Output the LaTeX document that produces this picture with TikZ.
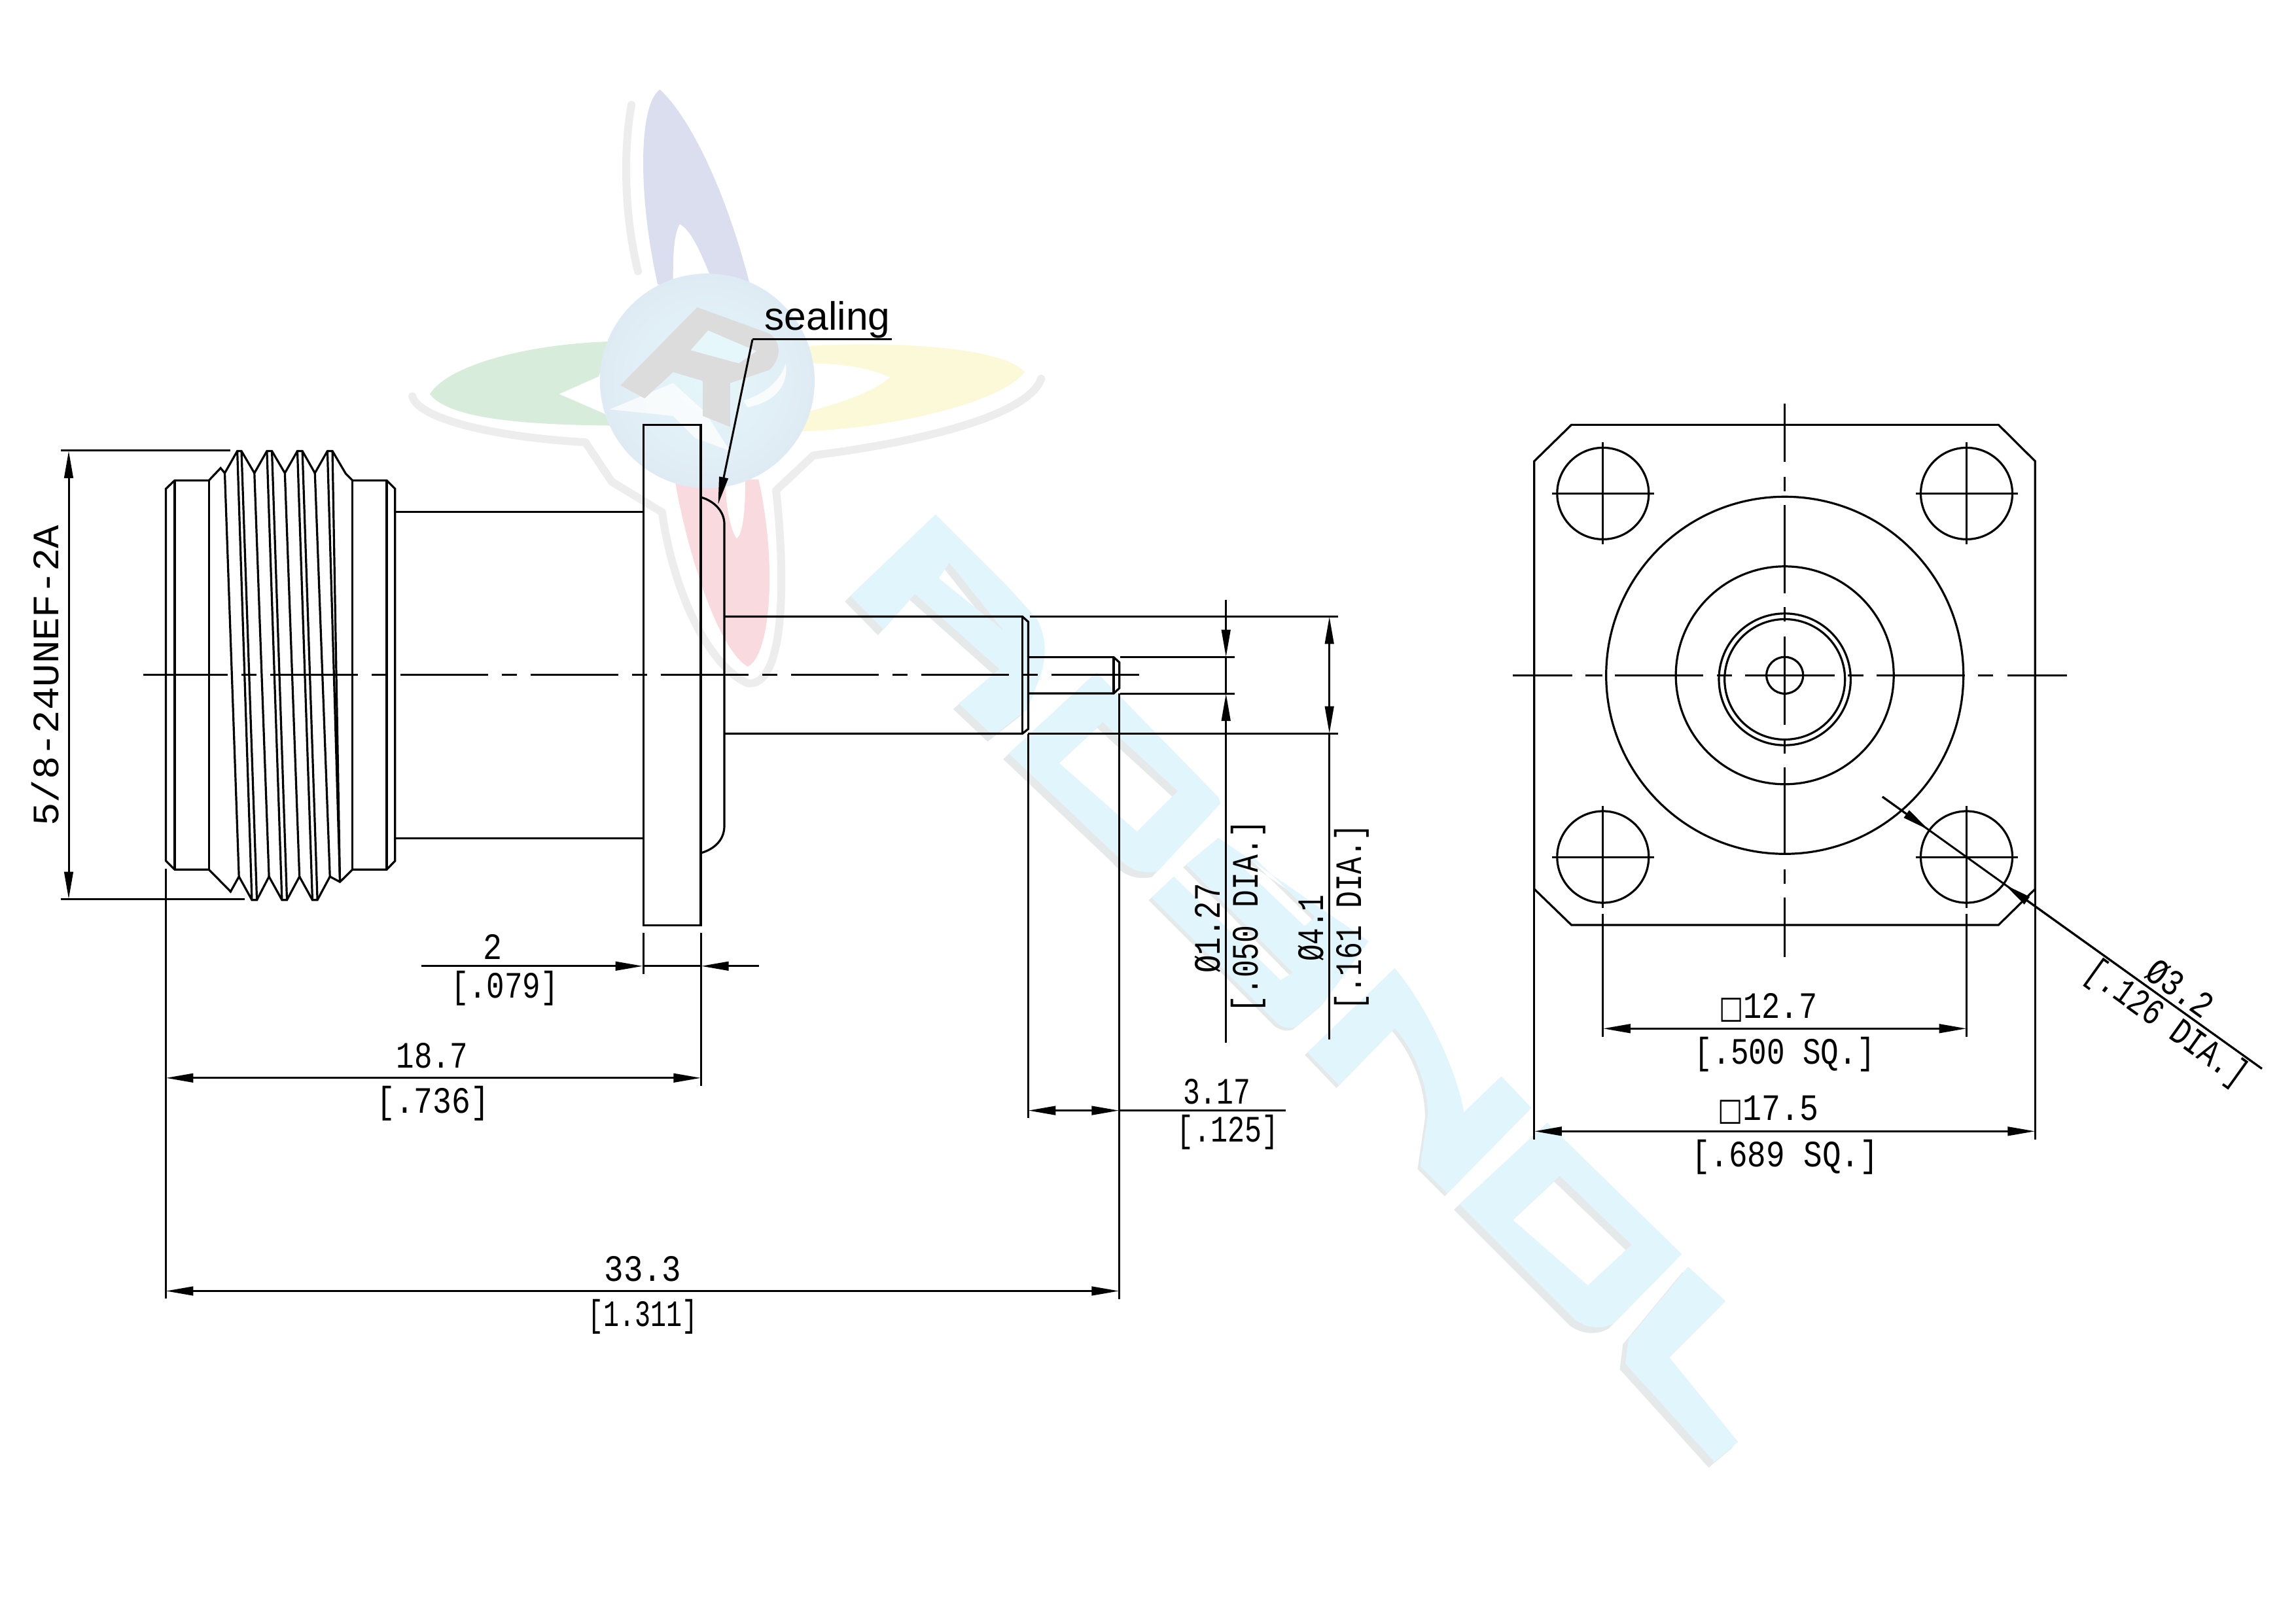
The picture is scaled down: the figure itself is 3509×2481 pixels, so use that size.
\documentclass[tikz,border=0pt]{standalone}
\usepackage{fontspec}
\usepackage{graphicx}
\usetikzlibrary{arrows.meta}
\newfontfamily\sealfont{Liberation Sans}
\newfontfamily\symfont{DejaVu Sans}
\newfontfamily\cadfont{Liberation Mono}
\newdimen\wu \wu=0.1mm
\newcommand\cw[2]{\resizebox{#1\wu}{\height}{\cadfont\fontsize{16.2}{18}\selectfont #2}}
\newcommand\sqg{{\symfont\fontsize{13.6}{14}\selectfont\char"25A1}}
\definecolor{wmcy}{HTML}{E1F5FC}
\definecolor{wmgy}{HTML}{E5E9E9}
\definecolor{lgBlue}{HTML}{DADEEE}
\definecolor{lgGreen}{HTML}{D8ECDB}
\definecolor{lgYellow}{HTML}{FBF9D8}
\definecolor{lgRed}{HTML}{F9DADF}
\definecolor{lgHalo}{HTML}{EDEDED}
\definecolor{lgGray}{HTML}{DCDCDC}
\definecolor{lgBallA}{HTML}{E5F7FA}
\definecolor{lgBallB}{HTML}{DFEBF4}
\newcommand\wmshape[1]{\fill[wmgy,even odd rule,shift={(-9,9)}] #1; \fill[wmcy,even odd rule] #1;}
\tikzset{
  x=0.1mm,y=-0.1mm,
  >={Triangle[length=4.2mm,width=1.35mm]},
  part/.style={line width=0.32mm,line join=miter},
  dimn/.style={line width=0.3mm},
  cad/.style={inner sep=0pt,outer sep=0pt,anchor=base},
  halo/.style={lgHalo,line width=1.2mm,line cap=round,line join=round}
}
\begin{document}
\begin{tikzpicture}
\useasboundingbox (0,0) rectangle (3509,2481);
\fill[white] (0,0) rectangle (3509,2481);
% ---------- diagonal watermark
\begin{scope}[shift={(1250,750)},scale=0.9567]
\wmshape{(52,168)--(188,38)--(300,150)--(350,205) .. controls (368,240) and (365,275) .. (350,310)--(335,349)--(280,392)--(225,340)--(290,285)--(155,165)--(105,222)--cycle (210,115)--(297,224)--(193,140)--cycle}
\wmshape{(305,420)--(445,290)--(640,490)--(643,500)--(543,608) .. controls (530,612) and (500,612) .. (480,586)--cycle (385,435)--(455,370)--(575,480)--(510,545)--cycle}
\wmshape{(1025,1140)--(1165,1010)--(1380,1220)--(1272,1330) .. controls (1255,1340) and (1230,1340) .. (1210,1325)--cycle (1110,1165)--(1185,1095)--(1300,1205)--(1230,1270)--cycle}
\wmshape{(1390,1240)--(1450,1295)--(1360,1385)--(1470,1520)--(1432,1552)--(1290,1395)--(1295,1355)--cycle}
\end{scope}
\begin{scope}[shift={(1700,1200)},scale=0.4591]
\wmshape{(130,375)--(205,305)--(560,650)--(600,625)--(245,265)--(353,176)--(853,520)--(700,730)--(610,805) .. controls (590,812) and (575,810) .. (550,795)--cycle (430,270)--(640,470)--(675,440)--(465,235)--cycle}
\wmshape{(650,890)--(755,1000)--(940,810) .. controls (1010,890) and (1050,1000) .. (1050,1100)--(1025,1270)--(1115,1360)--(1395,1075)--(1295,970)--(1170,1090) .. controls (1150,960) and (1050,740) .. (940,610)--cycle}
\end{scope}
% ---------- round logo
\begin{scope}[shift={(600,100)},scale=0.6698]
\draw[halo] (545,90) .. controls (525,200) and (530,350) .. (560,470);
\draw[halo] (45,755) .. controls (60,810) and (250,850) .. (440,860) -- (500,950) -- (615,1020) .. controls (640,1200) and (720,1370) .. (810,1410) .. controls (890,1420) and (900,1200) .. (875,970) -- (960,890) .. controls (1200,860) and (1450,800) .. (1480,715);
\fill[lgBlue] (610,55) .. controls (690,130) and (770,320) .. (815,500) -- (725,480) .. controls (700,420) and (680,375) .. (655,362) .. controls (640,390) and (640,440) .. (640,500) -- (605,500) .. controls (560,300) and (560,90) .. (610,55) -- cycle;
\fill[lgGreen] (85,750) .. controls (130,680) and (320,635) .. (500,630) -- (470,710) -- (380,750) -- (495,800) -- (500,822) .. controls (320,820) and (130,810) .. (85,750) -- cycle;
\fill[lgYellow] (1442,700) .. controls (1390,640) and (1130,630) .. (950,640) -- (955,680) .. controls (1020,680) and (1090,690) .. (1135,712) .. controls (1090,750) and (1020,770) .. (950,790) -- (935,835) .. controls (1130,830) and (1390,770) .. (1442,700) -- cycle;
\fill[lgRed] (645,950) .. controls (670,1100) and (740,1330) .. (810,1372) .. controls (860,1350) and (880,1150) .. (835,945) -- (805,945) .. controls (805,1010) and (800,1070) .. (785,1080) .. controls (770,1060) and (760,1000) .. (760,960) -- cycle;
\shade[inner color=lgBallA,outer color=lgBallB] (718,720) circle[radius=245];
\fill[white,opacity=.75] (495,785) -- (640,725) -- (712,790) -- (770,880) -- (690,850) -- (640,800) -- cycle;
\fill[lgGray] (520,730) -- (695,552) -- (860,612) .. controls (885,630) and (890,665) .. (860,695) -- (770,725) -- (770,825) -- (708,800) -- (708,720) -- (640,700) -- (575,760) -- cycle;
\fill[lgBallA] (680,650) -- (720,605) -- (830,652) -- (790,680) -- cycle;
\fill[white,opacity=.8] (800,765) .. controls (850,750) and (885,720) .. (897,680) .. controls (905,730) and (870,770) .. (810,780) -- cycle;
\end{scope}
% ---------- centre line, side view
\draw[part,dash pattern=on 13.4mm off 2.1mm on 2.3mm off 2.1mm,dash phase=0.5mm] (219,1031.8) -- (1742.4,1031.8);
% ---------- side view, threaded coupling
\begin{scope}[shift={(200,640)},xscale=0.6378,yscale=0.5102,part]
\draw[part] (187,185) -- (105,185) -- (84,210) -- (84,1325) -- (105,1351) -- (187,1351);
\draw[part] (105,185) -- (105,1351);
\draw[part] (187,185) -- (187,1351);
\draw[part] (531,185) -- (531,1351);
\draw[part] (613,185) -- (613,1351);
\draw[part] (531,185) -- (613,185) -- (633,210) -- (633,1325) -- (613,1351) -- (531,1351);
\draw[part] (187,185) -- (215,148) -- (225,163) -- (255,97) -- (265,97) -- (296,163) -- (326,97) -- (338,97) -- (369,163) -- (399,97) -- (411,97) -- (441,163) -- (471,97) -- (483,97) -- (515,165) -- (531,185);
\draw[part] (187,1351) -- (239,1417) -- (259,1372) -- (290,1442) -- (302,1442) -- (331,1372) -- (362,1442) -- (374,1442) -- (404,1372) -- (435,1442) -- (447,1442) -- (477,1372) -- (501,1388) -- (531,1351);
\foreach \a/\b/\c/\d in {225/163/259/1372,255/97/290/1442,265/97/302/1442,296/163/331/1372,326/97/362/1442,338/97/374/1442,369/163/404/1372,399/97/435/1442,411/97/447/1442,441/163/477/1372,471/97/501/1388,483/97/501/1388}
  \draw[part] (\a,\b) -- (\c,\d);
\end{scope}
% neck, flange, boss, shaft, pin
\draw[part] (604,782.9) -- (983.8,782.9);
\draw[part] (604,1281.3) -- (983.8,1281.3);
\draw[part] (983.8,649.2) rectangle (1071,1414.5);
\draw[part] (1071,760) .. controls (1092,766) and (1107,782) .. (1107,801) -- (1107,1262.4) .. controls (1107,1284) and (1092,1298) .. (1071,1304);
\draw[part] (1107,942.5) -- (1562.5,942.5) -- (1571.4,950.5) -- (1571.4,1114.4) -- (1562.5,1121.5) -- (1107,1121.5);
\draw[part] (1562.5,942.5) -- (1562.5,1121.5);
\draw[part] (1571.4,1004.6) -- (1702,1004.6) -- (1710.7,1012.6) -- (1710.7,1052) -- (1702,1060) -- (1571.4,1060);
\draw[part] (1702,1004.6) -- (1702,1060);
% sealing label
\node[inner sep=0pt,anchor=base] (seal) at (1264.5,505) {\sealfont\fontsize{17.2}{18}\selectfont sealing};
\draw[dimn] (1363,519) -- (1150,519);
\draw[dimn,->] (1150,519) -- (1097.5,771);
% ---------- side view dimensions
\draw[dimn] (92.7,689) -- (351.7,689);
\draw[dimn] (92.7,1374.5) -- (374,1374.5);
\draw[dimn,<->] (105,689) -- (105,1374.5);
\node[cad,rotate=90] (thread) at (89,1032.6) {\cw{460}{5/8-24UNEF-2A}};
\draw[dimn] (253.4,1328) -- (253.4,1985);
\draw[dimn] (983.2,1426) -- (983.2,1489);
\draw[dimn] (1071.3,1426) -- (1071.3,1660);
\draw[dimn,->] (644.4,1476.8) -- (982.6,1476.8);
\draw[dimn] (983.2,1476.8) -- (1071.3,1476.8);
\draw[dimn,->] (1160,1476.8) -- (1071.6,1476.8);
\node[cad] (d2) at (753,1466) {\cw{29}{2}};
\node[cad] (d2b) at (771.5,1525) {\cw{165}{[.079]}};
\draw[dimn,<->] (253.4,1647.8) -- (1071.3,1647.8);
\node[cad] (d187) at (660.5,1632) {\cw{110}{18.7}};
\node[cad] (d187b) at (661.7,1701) {\cw{173}{[.736]}};
\draw[dimn,<->] (253.4,1973.5) -- (1710.3,1973.5);
\node[cad] (d333) at (982.5,1958) {\cw{118}{33.3}};
\node[cad] (d333b) at (982.7,2027) {\cw{168}{[1.311]}};
\draw[dimn] (1573.7,942.5) -- (2044.6,942.5);
\draw[dimn] (1571.4,1121.5) -- (2044.6,1121.5);
\draw[dimn] (1712,1004.6) -- (1886.6,1004.6);
\draw[dimn] (1712,1060) -- (1886.6,1060);
\draw[dimn] (1571.4,1121.5) -- (1571.4,1709);
\draw[dimn] (1710.3,1060) -- (1710.3,1986);
\draw[dimn] (1873.7,1004) -- (1873.7,1060);
\draw[dimn,->] (1873.7,916.6) -- (1873.7,1004.6);
\draw[dimn,->] (1873.7,1594) -- (1873.7,1060);
\draw[dimn,<->] (2031.7,942.5) -- (2031.7,1121.5);
\draw[dimn] (2031.7,1121.5) -- (2031.7,1589);
\draw[dimn,<->] (1571.4,1697.6) -- (1710.3,1697.6);
\draw[dimn] (1710.3,1697.6) -- (1965,1697.6);
\node[cad] (d317) at (1859.5,1687) {\cw{103}{3.17}};
\node[cad] (d317b) at (1876.5,1745) {\cw{156}{[.125]}};
\node[cad,rotate=90] (d127) at (1864,1419) {\cw{137}{Ø1.27}};
\node[cad,rotate=90] (d127b) at (1922,1401) {\cw{295}{[.050 DIA.]}};
\node[cad,rotate=90] (d41) at (2022,1418.5) {\cw{102}{Ø4.1}};
\node[cad,rotate=90] (d41b) at (2080,1401.6) {\cw{285}{[.161 DIA.]}};
% ---------- front view
\draw[part] (2401.6,649.4) -- (3054.3,649.4) -- (3110.3,705) -- (3110.3,1359) -- (3054.3,1414) -- (2401.6,1414) -- (2344.8,1359) -- (2344.8,705) -- cycle;
\draw[dimn] (2344.8,1359) -- (2344.8,1742);
\draw[dimn] (3110.3,1359) -- (3110.3,1742);
\draw[part] (2727.7,1032.3) circle[radius=273];
\draw[part] (2727.7,1032.3) circle[radius=166.5];
\draw[part] (2727.7,1038.5) circle[radius=100.7];
\draw[part] (2727.7,1038.5) circle[radius=92];
\draw[part] (2727.7,1032.3) circle[radius=28];
\foreach \hx/\hy in {2449.8/754.4,3005.5/754.4,2449.8/1310,3005.5/1310}{
  \draw[part] (\hx,\hy) circle[radius=70];
  \draw[dimn] (\hx-78,\hy) -- (\hx+78,\hy);
  \draw[dimn] (\hx,\hy-78) -- (\hx,\hy+78);
}
\begin{scope}[shift={(2300,600)},scale=0.574]
\foreach \a/\b in {20/180,215/260,292/528,565/605,640/878,912/955,990/1225,1260/1300,1338/1497}
  \draw[dimn] (\a,753) -- (\b,753);
\foreach \a/\b in {30/185,225/263,300/535,572/610,650/885,922/962,998/1232,1270/1308,1345/1503}
  \draw[dimn] (745,\a) -- (745,\b);
\end{scope}
% front view dimensions
\draw[dimn] (2449.8,1397) -- (2449.8,1585);
\draw[dimn] (3005.5,1397) -- (3005.5,1585);
\draw[dimn,<->] (2449.8,1572.3) -- (3005.5,1572.3);
\draw[dimn,<->] (2344.8,1729.3) -- (3110.3,1729.3);
\node[cad] (d127s) at (2702.3,1556.7) {\cw{150}{\sqg 12.7}};
\node[cad] (d127sb) at (2727.8,1626) {\cw{276}{[.500 SQ.]}};
\node[cad] (d175s) at (2702,1712) {\cw{154}{\sqg 17.5}};
\node[cad] (d175sb) at (2728,1783) {\cw{286}{[.689 SQ.]}};
\draw[dimn] (2877,1218) -- (3456.8,1633.6);
\draw[dimn,->] (2877,1218) -- (2947.8,1268.7);
\draw[dimn,->] (3456.8,1633.6) -- (3063.8,1352.3);
\node[cad,rotate=-35.65] (d32) at (3320.9,1526.3) {\cw{112}{Ø3.2}};
\node[cad,rotate=-35.65] (d32b) at (3301.5,1577.6) {\cw{291}{[.126 DIA.]}};
\end{tikzpicture}
\end{document}
